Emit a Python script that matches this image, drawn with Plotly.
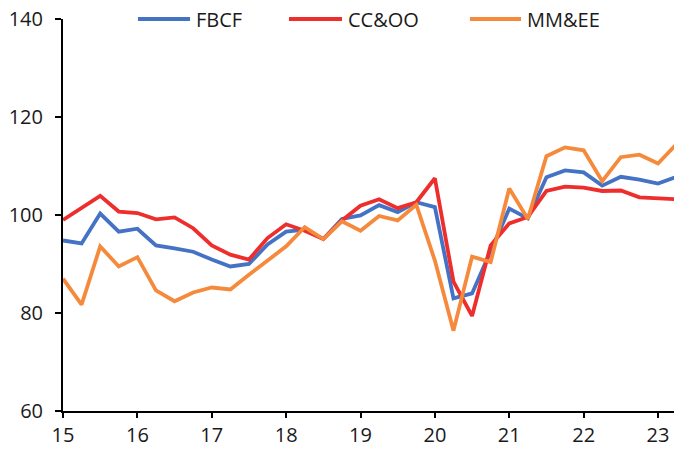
import plotly.graph_objects as go

x_vals = [15 + i * 0.25 for i in range(34)]

fbcf = [94.8, 94.2, 100.3, 96.6, 97.2, 93.8, 93.2, 92.5, 90.9, 89.5,
        90.0, 94.0, 96.6, 97.0, 95.1, 99.2, 99.9, 102.0, 100.6, 102.6,
        101.6, 83.0, 84.0, 92.7, 101.3, 99.3, 107.7, 109.1, 108.7, 106.0,
        107.8, 107.2, 106.4, 107.8]

ccoo = [99.0, 101.5, 103.9, 100.7, 100.4, 99.1, 99.5, 97.3, 93.8, 91.9,
        90.9, 95.3, 98.1, 96.8, 95.1, 98.9, 101.9, 103.2, 101.4, 102.6,
        107.5, 86.4, 79.4, 93.8, 98.3, 99.6, 104.9, 105.8, 105.6, 104.9,
        105.0, 103.6, 103.3, 103.2]

mmee = [87.0, 81.7, 93.6, 89.5, 91.4, 84.6, 82.4, 84.2, 85.2, 84.8,
        87.8, 90.7, 93.6, 97.5, 95.1, 98.7, 96.8, 99.8, 98.9, 102.1,
        90.7, 76.4, 91.5, 90.4, 105.4, 99.2, 112.0, 113.8, 113.2, 106.9,
        111.8, 112.3, 110.5, 114.5]

x_ticks = [15, 16, 17, 18, 19, 20, 21, 22, 23]
y_ticks = [60, 80, 100, 120, 140]

series_names = ["FBCF", "CC&OO", "MM&EE"]
series_values = [fbcf, ccoo, mmee]
series_colors = ["#4472C4", "#EE2D2D", "#F58A3C"]

# custom legend placement (paper coords): line start, line end, text start
legend_pos = [(0.1227, 0.2079, 0.2160), (0.3699, 0.4566, 0.4648), (0.6661, 0.7496, 0.7578)]

fig = go.Figure()
for name, vals, color in zip(series_names, series_values, series_colors):
    fig.add_trace(go.Scatter(x=x_vals, y=vals, mode="lines", name=name,
                             line=dict(color=color, width=3.8), showlegend=False))

FONT = "Open Sans"
for name, color, (x0, x1, xt) in zip(series_names, series_colors, legend_pos):
    fig.add_shape(type="line", xref="paper", yref="paper", x0=x0, x1=x1, y0=1.0, y1=1.0,
                  line=dict(color=color, width=4))
    fig.add_annotation(xref="paper", yref="paper", x=xt, y=1.0, xanchor="left", yanchor="middle",
                       text=name, showarrow=False, borderpad=0,
                       font=dict(family=FONT, size=20, color="#1a1a1a"))

fig.update_layout(
    width=674, height=449,
    margin=dict(l=63, r=0, t=19, b=38),
    paper_bgcolor="white", plot_bgcolor="white",
    font=dict(family=FONT, size=20, color="#1a1a1a"),
    showlegend=False,
    xaxis=dict(range=[15, 23.215], tickvals=x_ticks, ticktext=[str(t) for t in x_ticks],
               showgrid=False, zeroline=False, showline=True, linecolor="black", linewidth=2,
               ticks="outside", ticklen=5, tickcolor="black", tickwidth=1.5, automargin=False),
    yaxis=dict(range=[60, 140], tickvals=y_ticks, showgrid=False, zeroline=False,
               showline=True, linecolor="black", linewidth=2,
               ticks="outside", ticklen=6, tickcolor="black", tickwidth=1.5, automargin=False,
               ticklabelstandoff=8),
)

fig.write_html("out.html", config={"displayModeBar": False})

# remove default body margin so the figure sits at the page origin
with open("out.html", "r", encoding="utf-8") as f:
    html = f.read()
html = html.replace("<body>", '<body style="margin:0;padding:0;">', 1)
with open("out.html", "w", encoding="utf-8") as f:
    f.write(html)
